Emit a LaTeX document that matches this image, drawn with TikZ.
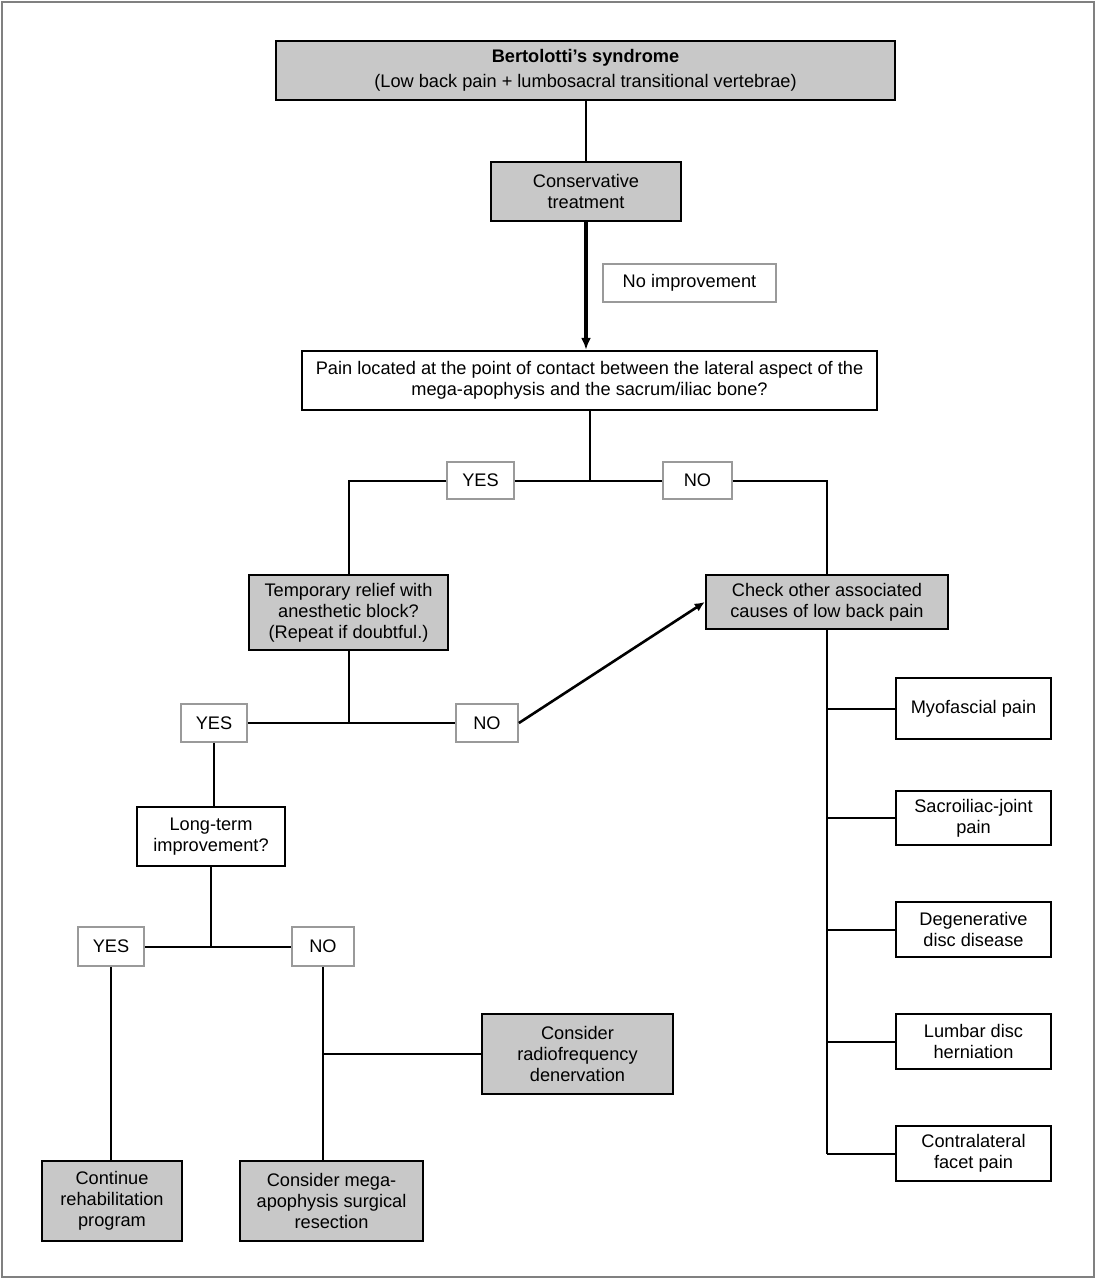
\documentclass[tikz,border=0pt]{standalone}
\usepackage{fontspec}
\setmainfont{Liberation Sans}
\usepackage{tikz}
\usetikzlibrary{arrows.meta,positioning,calc}
\definecolor{bfill}{HTML}{C8C8C8}
\definecolor{bedge}{HTML}{9A9A9A}
\definecolor{bframe}{HTML}{808080}

\begin{document}
\begin{tikzpicture}[x=0.5pt,y=-0.5pt,font=\fontsize{9.1}{10.6}\selectfont,
  sz/.style n args={2}{minimum width=#1*0.5pt,minimum height=#2*0.5pt},
  box/.style={draw,line width=1.2pt,align=center,inner sep=0pt},
  gbox/.style={box,fill=bfill},
  tag/.style={draw=bedge,line width=0.9pt,inner sep=0pt},
  link/.style={line width=1pt}]
\useasboundingbox (0,0) rectangle (1097,1280);
\draw[bframe,line width=0.8pt] (2,2) rectangle (1094,1277);
% main column
\node[gbox,sz={619}{59}] (synd) at (585.5,70.5) {\textbf{Bertolotti’s syndrome}\\[2pt](Low back pain + lumbosacral transitional vertebrae)};
\node[gbox,sz={190}{59}] (cons) at (586,191.5) {Conservative\\treatment};
\node[tag,sz={173}{38}] (noimp) at (689.5,283) {No improvement};
\node[box,sz={575}{59}] (pain) at (589.5,380.5) {Pain located at the point of contact between the lateral aspect of the\\mega-apophysis and the sacrum/iliac bone?};
\draw[link] (synd.south) -- (synd.south |- cons.north);
\draw[line width=1.6pt,-{Latex[length=6pt,width=5pt]}] (cons.south) -- (cons.south |- pain.north);
% first split
\node[tag,sz={67}{37}] (yes1) at (480.5,480.5) {YES};
\node[tag,sz={69}{37}] (no1) at (697.5,480.5) {NO};
\node[gbox,sz={199}{75}] (temp) at (348.5,612.5) {Temporary relief with\\anesthetic block?\\(Repeat if doubtful.)};
\node[gbox,sz={242}{54}] (check) at (827,602) {Check other associated\\causes of low back pain};
\draw[link] (pain.south) -- (pain.south |- yes1.east);
\draw[link] (yes1.east) -- (no1.west);
\draw[link] (yes1.west) -| (temp.north);
\draw[link] (no1.east) -| (check.north);
% anesthetic block
\node[tag,sz={66}{38}] (yes2) at (214,723) {YES};
\node[tag,sz={62}{38}] (no2) at (487,723) {NO};
\node[box,sz={148}{59}] (long) at (211,836.5) {Long-term\\improvement?};
\draw[link] (temp.south) -- (temp.south |- yes2.east);
\draw[link] (yes2.east) -- (no2.west);
\draw[line width=1.3pt,-{Latex[length=5pt,width=4.5pt]}] (no2.east) -- (check.west);
\draw[link] (yes2.south) -- (yes2.south |- long.north);
% long-term result
\node[tag,sz={66}{39}] (yes3) at (111,946.5) {YES};
\node[tag,sz={62}{39}] (no3) at (323,946.5) {NO};
\node[gbox,sz={140}{80}] (rehab) at (112,1201) {Continue\\rehabilitation\\program};
\node[gbox,sz={183}{80}] (resect) at (331.5,1201) {Consider mega-\\apophysis surgical\\resection};
\node[gbox,sz={191}{80}] (radio) at (577.5,1054) {Consider\\radiofrequency\\denervation};
\draw[link] (long.south) -- (long.south |- yes3.east);
\draw[link] (yes3.east) -- (no3.west);
\draw[link] (yes3.south) -- (yes3.south |- rehab.north);
\draw[link] (no3.south) -- (no3.south |- resect.north);
\draw[link] (no3.south |- radio.west) -- (radio.west);
% other causes
\foreach \n/\y/\h/\t in {myo/708.5/61/{Myofascial pain},sacro/818/54/{Sacroiliac-joint\\pain},
    degen/929.5/55/{Degenerative\\disc disease},lumbar/1041.5/55/{Lumbar disc\\herniation},
    contra/1153.5/55/{Contralateral\\facet pain}}{
  \node[box,sz={155}{\h}] (\n) at (973.5,\y) {\t};
  \draw[link] (check.south |- \n.west) -- (\n.west);
}
\draw[link] (check.south) -- (check.south |- contra.west);
\end{tikzpicture}
\end{document}
